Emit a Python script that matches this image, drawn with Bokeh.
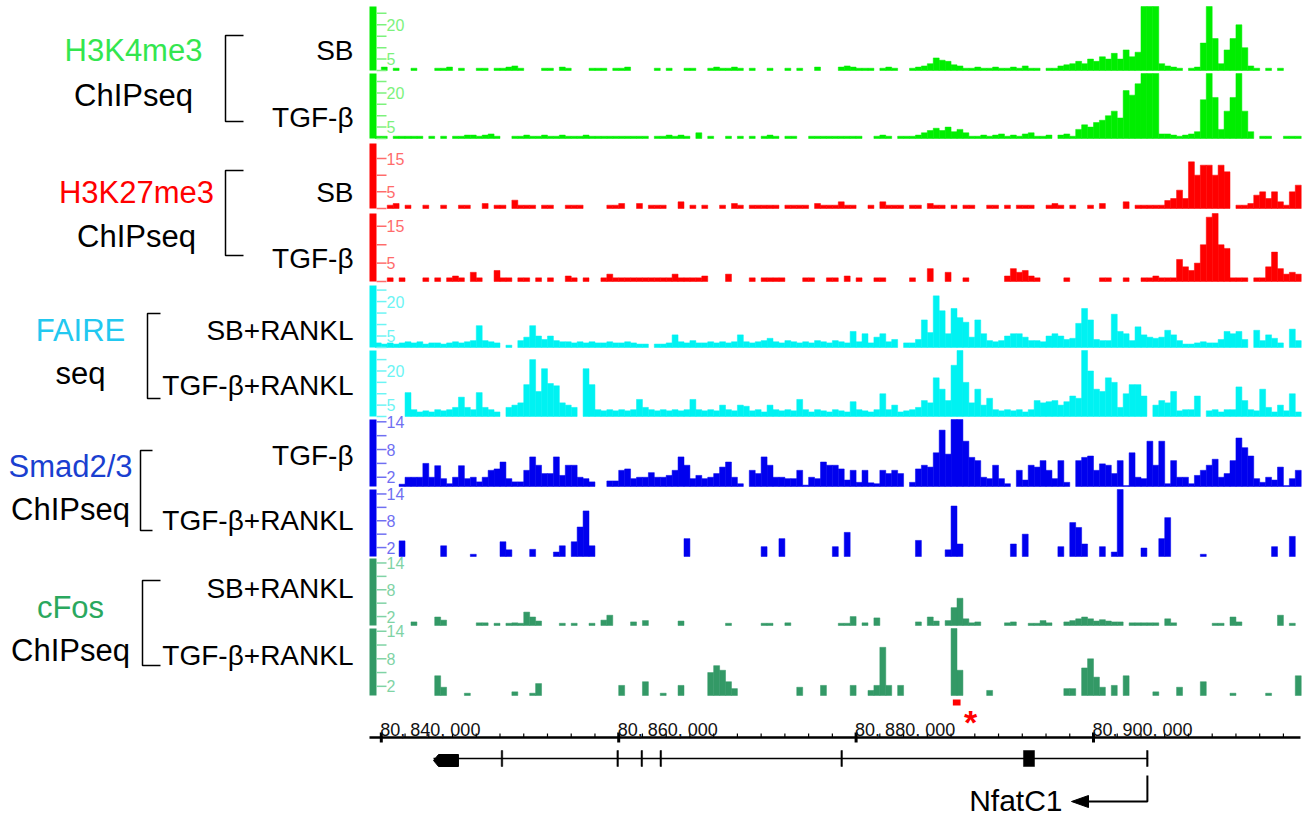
import numpy as np
from bokeh.plotting import figure
from bokeh.models import Range1d
from bokeh.core.properties import value
from bokeh.embed import file_html
from bokeh.resources import INLINE

W, H = 1310, 820
FONT = value("Liberation Sans")

# ---------------------------------------------------------------------------
# Signal tracks: read depth in 500-bp bins starting at chr position 80,839,000
# ---------------------------------------------------------------------------
BIN_START = 80_839_000
BIN_SIZE = 500

h3k4me3_sb = [
    0, 0, 1.5, 0, 1, 0, 0, 1, 0, 0,
    0, 1, 1, 1.5, 0, 1, 0, 0, 1, 1,
    0, 1, 1, 1.5, 2, 1, 0, 0, 0, 1,
    1, 0, 1.5, 1, 0, 0, 0, 1, 1, 1,
    0, 1, 1, 1.5, 0, 0, 0, 0, 1, 0,
    1, 0, 0, 1, 1, 0, 0, 1, 1.5, 1,
    1, 1.5, 1, 0, 1, 0, 0, 1, 0, 0,
    1, 0, 1, 0, 0, 1.5, 0, 0, 0, 1.5,
    2, 1.5, 1, 1, 1, 0, 1, 1.5, 1, 0,
    0, 1, 1.5, 2, 3, 5.5, 4.5, 4, 2.5, 2,
    1, 1, 1.5, 1, 1, 1.5, 1, 1, 1.5, 1,
    2, 1, 1, 0, 1, 1, 2, 2.5, 3, 4,
    3, 5, 4, 6, 5, 7.5, 5, 9, 6, 8,
    28, 28, 28, 3, 2, 1.5, 1, 0, 1, 1.5,
    12, 28, 14, 3, 9, 14, 20, 10, 2, 1,
    0, 1, 0, 1, 0, 0, 0]

h3k4me3_tgfb = [
    0, 1, 1, 0, 1, 1, 1, 1, 1, 0,
    1, 0, 1, 0, 1, 1, 1.5, 1.5, 1, 1.5,
    2, 1, 0, 0, 1, 1, 1.5, 1, 1, 1.5,
    1, 1, 1.5, 1, 1, 1, 1.5, 1, 1, 1,
    1, 1, 1, 1, 1, 1, 1, 0, 1, 1,
    1.5, 1, 1.5, 1, 0, 2.5, 0, 1, 0, 0,
    1, 0, 1, 0, 1, 0, 1, 1.5, 1, 0,
    1, 1, 0, 0, 1, 1, 1, 1, 1, 1,
    1, 1, 1, 0, 0, 1, 1.5, 1, 0, 1,
    1, 1, 1.5, 2.5, 3.5, 4.5, 3.5, 5, 3, 4,
    2.5, 1, 1, 1.5, 1, 1.5, 2, 1, 1.5, 1,
    2, 2.5, 1, 1, 1.5, 0, 1.5, 2, 1, 4,
    6, 5, 7, 8, 10, 12, 9, 21, 19, 24,
    29, 29, 29, 2, 2, 1.5, 1, 1.5, 2, 3,
    17, 29, 18, 4, 12, 18, 29, 12, 3, 0,
    1, 1, 0, 0, 1, 1, 1]

h3k27me3_sb = [
    0, 0, 0, 1, 1.5, 0, 1, 0, 0, 1,
    0, 0, 1, 0, 0, 1, 1, 0, 0, 1.5,
    0, 1, 1, 0, 2.5, 1, 1, 1, 0, 1,
    1, 0, 0, 1, 1, 1, 0, 0, 0, 0,
    1, 1, 1.5, 0, 0, 1.5, 0, 1, 1, 1,
    0, 0, 2, 0, 1, 0, 1, 0, 0, 1,
    0, 1.5, 1, 0, 1, 1, 1, 1, 1, 0,
    1, 1, 1, 1, 0, 1.5, 1, 1, 1, 2,
    1, 1, 0, 0, 1, 0, 2, 1, 1, 1,
    0, 1, 1, 0, 1.5, 1, 1, 0, 1, 0,
    1, 1, 0, 0, 1, 1, 0, 1, 0, 1,
    1, 1, 0, 0, 1, 1.5, 1, 0, 1, 0,
    0, 1, 0, 1.5, 0, 0, 0, 2, 0, 1,
    1, 1, 1, 1, 2.4, 3, 5.5, 3, 14, 10,
    13, 13, 10, 13, 11, 0, 1, 1, 1.5, 4,
    5, 3, 5, 2, 1, 5, 7]

h3k27me3_tgfb = [
    0, 0, 0, 1, 0, 1, 0, 0, 0, 1,
    0, 1, 0, 1, 1.5, 1, 0, 2.5, 1, 0,
    0, 3, 1, 1, 0, 1, 1, 0, 1, 0,
    1, 0, 0, 1.5, 1, 0, 1, 0, 0, 1,
    2, 1, 1, 1, 1, 1, 1, 1, 1, 1,
    1, 2, 1, 1, 1, 1, 1.5, 0, 0, 0,
    2, 0, 0, 0, 1, 0, 1, 1, 1, 1,
    0, 0, 0, 1, 1, 0, 0, 1, 1, 0,
    1.5, 0, 1, 0, 0, 1, 1, 0, 0, 0,
    0, 1, 0, 0, 3.5, 0, 0, 2.5, 0, 0,
    1, 0, 0, 0, 0, 0, 0, 1.5, 3.5, 2.5,
    3, 1.5, 1, 0, 0, 0, 0, 1, 0, 0,
    0, 0, 0, 1, 1, 0, 0, 1, 0, 0,
    1, 1, 1.5, 1, 1, 1, 6, 4, 3, 5,
    10, 17.5, 19, 10, 9, 1, 1, 1, 0, 1,
    1, 4, 8, 3.5, 2, 2.5, 2]

faire_sb_rankl = [
    0, 2, 1.5, 2, 1.5, 2, 2.5, 2, 2.5, 1.5,
    2, 2, 1.5, 2, 2.5, 2, 2.5, 3, 9.5, 3,
    2.5, 2, 0, 1, 0, 3, 4.5, 9.5, 5, 3.5,
    5, 3, 2.5, 2.5, 2, 2.5, 2, 2.5, 2, 2,
    2.5, 2, 2, 2.5, 2, 1.5, 1.5, 0, 1.5, 1.5,
    2, 5.5, 2.5, 2, 3, 2, 2, 2.5, 2, 2.5,
    2, 2.5, 5.5, 2.5, 2, 2.5, 3, 4, 2.5, 2,
    3, 2.5, 2, 2.5, 2, 3, 2.5, 2, 3, 2.5,
    2, 7, 2.5, 6, 2, 4.5, 6, 2.5, 3.5, 0,
    2, 2, 3.5, 12, 6.5, 22.5, 16, 6, 17, 13,
    11, 4.5, 12, 6, 3, 2.5, 3, 5, 6, 6,
    4.5, 3, 3, 2.5, 5, 6, 5, 3.5, 4, 10.5,
    17, 12, 3.5, 3, 3, 14.5, 7, 6, 3, 9,
    5.5, 4.5, 4, 4.5, 7.5, 5.5, 3, 1.5, 1.5, 2,
    2.5, 2, 2, 3.5, 7, 6, 7, 3.5, 0, 7.5,
    3, 5.5, 4, 2, 0, 8, 3]

faire_tgfb_rankl = [
    0, 0, 0, 0, 0, 0, 10.5, 3, 2, 2.5,
    2, 3, 2.5, 3, 4, 8.5, 4, 3, 10.5, 4,
    3, 2, 0, 4, 5, 6, 14, 25, 11, 21,
    14.5, 13.5, 6, 5, 4, 0, 21, 14, 3, 2.5,
    3, 2.5, 3, 2.5, 3, 7.5, 4, 3, 2.5, 3,
    2.5, 3, 2.5, 3, 7.5, 3, 2.5, 3, 2.5, 5,
    3, 2.5, 5, 4.5, 2.5, 3, 2, 5, 3, 2.5,
    3, 2.5, 7.5, 3, 2, 3, 2.5, 2, 3, 2.5,
    2, 6.5, 3, 2.5, 2, 3, 10, 3, 5, 2,
    2.5, 3, 4, 7, 6, 17, 12, 7, 22.5, 29,
    15, 6, 12, 5, 8, 3, 2.5, 3, 2.5, 3,
    2, 3, 7, 6, 6.5, 7, 5, 6.5, 9, 8,
    29, 20, 12, 11, 17, 15, 4, 10, 14, 14,
    9, 0, 5, 7, 6, 11, 2.5, 3, 3, 9,
    0, 2.5, 3, 2, 3, 3, 13, 7, 3, 2.5,
    12, 4, 2, 5, 2.5, 10, 2]

smad23_tgfb = [
    0, 0, 0, 0, 0, 0.5, 2, 2, 2, 5,
    2, 4.5, 1.7, 0.6, 2, 4.5, 1.7, 2, 1, 2,
    3.5, 3.8, 5.3, 1.7, 1, 1, 3.5, 6.4, 4.6, 2.8,
    2.8, 6.4, 2.4, 4.6, 4.6, 2, 1.7, 1, 0, 0,
    1.2, 1.2, 3.5, 3.8, 1.7, 2, 2, 3, 2, 2,
    2.4, 3.5, 6.4, 4.6, 1.7, 2.4, 1.7, 2, 2.8, 4.2,
    5.3, 2, 0.6, 0, 3.5, 2.8, 6.4, 4.6, 2, 2,
    1.7, 1.7, 3.5, 0.3, 2, 1.7, 5.3, 4.6, 4.6, 3.8,
    1.4, 3.5, 0.9, 3.5, 0.8, 0.6, 3.5, 2.8, 3.5, 2.8,
    0, 0.9, 3.8, 4.6, 4.2, 7.3, 12.2, 7, 14.7, 14.7,
    9.8, 6.3, 5.6, 2, 1.7, 4.6, 1.7, 0.6, 0, 3.5,
    1.4, 4.6, 4.2, 5.6, 3.5, 1.7, 5.6, 0.9, 0, 5.6,
    6.3, 6.6, 3.5, 4.9, 4.6, 2.8, 5.6, 0.2, 7.3, 2,
    1.7, 9.8, 4.6, 9.8, 0.6, 5.6, 2, 2, 0.6, 2.4,
    3.5, 4.6, 5.9, 2, 2.8, 5.6, 10.5, 8.4, 6.6, 1.7,
    0.9, 2, 1.4, 4.2, 0.2, 1.7, 3.5]

smad23_tgfb_rankl = [
    0, 0, 0, 0, 0, 3.5, 0, 0, 0, 0,
    0, 0, 2.4, 0, 0, 0, 0, 0.5, 0, 0,
    0, 0, 3.3, 1.5, 0, 0, 0, 1.6, 0, 0,
    0, 1, 2.4, 0, 3.3, 6.6, 10.2, 2.4, 0, 0,
    0, 0, 0, 0, 0, 0, 0, 0, 0, 0,
    0, 0, 0, 4, 0, 0, 0, 0, 0, 0,
    0, 0, 0, 0, 0, 0, 2.2, 0, 0, 4,
    0, 0, 0, 0, 0, 0, 0, 0, 2.2, 0,
    5.4, 0, 0, 0, 0, 0, 0, 0, 0, 0,
    0, 0, 3.6, 0, 0, 0, 0, 1.5, 11.3, 2.8,
    0, 0, 0, 0, 0, 0, 0, 0, 2.8, 0,
    5, 0, 0, 0, 0, 0, 2.2, 0, 7.6, 6.5,
    2.8, 0, 0, 2.2, 0, 1, 15, 0, 0, 0,
    1.9, 0, 0, 4, 8.7, 0, 0, 0, 0, 0,
    0.5, 0, 0, 0, 0, 0, 0, 0, 0, 0,
    0, 0, 2.2, 0, 0, 4.5, 0]

cfos_sb_rankl = [
    0, 0, 0, 0, 0, 0, 0, 0.8, 0, 0,
    0, 1.9, 1.2, 0, 0, 0, 0, 0, 0.6, 0.6,
    0, 0.5, 0, 0.5, 0.6, 0.5, 3, 1.9, 1, 0,
    0, 0, 0.5, 0, 0.5, 0, 0, 0.5, 0, 1.2,
    2.3, 0, 0, 0, 0.8, 0, 1.1, 0, 0, 0,
    0, 0, 1, 0, 0, 0, 0, 0, 0, 0,
    0.5, 0, 0, 0, 0, 0, 0.5, 0.5, 0, 0,
    0.6, 0, 0, 0, 0, 0, 0, 0, 0, 0.5,
    0.5, 2, 0, 0.6, 0, 1.7, 0, 0, 0, 0,
    0, 0, 0.8, 0, 1.9, 1, 0, 1.1, 4, 6.1,
    1.5, 0.6, 0.8, 0, 0, 0, 0, 0.6, 0.8, 0,
    0, 0.5, 0.5, 1.1, 0.6, 0, 0, 0.8, 1.1, 1.5,
    1.9, 1.5, 1, 1.3, 1, 0.8, 0.8, 0, 0.6, 0.6,
    0.6, 0.6, 0.6, 0, 1.5, 0.6, 0, 0, 0, 0,
    0, 0, 0.5, 0.5, 0, 1.9, 0.8, 0, 0, 0,
    0, 0, 0, 2.3, 0, 0.5, 0]

cfos_tgfb_rankl = [
    0, 0, 0, 0, 0, 0, 0, 0, 0, 0,
    0, 4.3, 1.8, 0, 0, 0, 0.5, 0, 0, 0,
    0, 0, 0, 0, 0.8, 0, 0, 0.5, 2.6, 0,
    0, 0, 0, 0, 0, 0, 0, 0, 0, 0,
    0, 0, 2.2, 0, 0, 0, 3, 0, 0, 0.5,
    0, 0, 2.2, 0, 0, 0, 0, 5, 6.5, 5.5,
    3, 1.5, 0, 0, 0, 0, 0, 0, 0, 0,
    0, 0, 1.8, 0, 0, 0, 2.2, 0, 0, 0,
    0, 2.2, 0, 0, 1.1, 2.2, 10.5, 2.2, 0, 2.2,
    0, 0, 0, 0, 0, 0, 0, 0, 14.6, 5.5,
    0, 0, 0, 0, 1.1, 0, 0, 0, 0, 0,
    0, 0, 0, 0, 0, 0, 0, 1.5, 1.5, 0,
    6, 8, 4, 1.8, 0, 2.2, 0, 4.3, 0, 0,
    0, 0, 0.8, 0, 0, 0, 1.8, 0, 0, 0,
    3, 0, 0, 0, 0, 0.5, 0, 0, 0, 0,
    0, 0.5, 0, 0, 0, 0, 4.3]

# per-track scale tick values and which of them carry a label
ticks_h3 = [0, 5, 10, 15, 20, 25]
labels_k4 = ["20", "5"]
labels_k27 = ["15", "5"]
ticks_tf = [2, 5, 8, 11, 14]
labels_tf = ["14", "8", "2"]

# gene model of NfatC1 (minus strand), exon coordinates in bp
exon_starts = [80_844_400, 80_850_100, 80_859_850, 80_861_880, 80_863_480,
               80_878_720, 80_894_100, 80_904_470]
exon_ends = [80_846_500, 80_850_230, 80_859_980, 80_862_010, 80_863_610,
             80_878_850, 80_895_030, 80_904_600]
gene_name = "NfatC1"

# ruler labels
ruler_ticks = [80_840_000, 80_860_000, 80_880_000, 80_900_000]
ruler_labels = ["80, 840, 000", "80, 860, 000", "80, 880, 000", "80, 900, 000"]

# cFos peak highlighted in the TGF-β+RANKL sample
marked_region = (80_888_150, 80_888_800)

# ---------------------------------------------------------------------------
# colours
# ---------------------------------------------------------------------------
GREEN, GREEN_T = "#00ee00", "#7cf27c"
RED, RED_T = "#ff0000", "#ff6b6b"
CYAN, CYAN_T = "#00f2f2", "#6cf4f4"
BLUE, BLUE_T = "#0000ee", "#6f6ff2"
SEA, SEA_T = "#339966", "#7fd3a5"

# ---------------------------------------------------------------------------
# figure: y in screen pixels (top = 0), x in pixels plus a genome range
# ---------------------------------------------------------------------------
PX_PER_KB = 11.87
X_REF = 380.8                 # pixel column of 80,840,000
G0 = 80_840_000 - X_REF / PX_PER_KB * 1000
G1 = 80_840_000 + (W - X_REF) / PX_PER_KB * 1000
DATA_LEFT, DATA_RIGHT = 369, 1300


def gx(px):
    return G0 + px / W * (G1 - G0)


p = figure(width=W, height=H, x_range=Range1d(0, W), y_range=Range1d(H, 0),
           output_backend="svg", toolbar_location=None, min_border=0,
           x_axis_location=None, y_axis_location=None)
p.outline_line_color = None
p.background_fill_color = "white"
p.border_fill_color = "white"
for g in p.grid:
    g.visible = False
p.extra_x_ranges = {"genome": Range1d(G0, G1)}

# (values, colour, tick colour, baseline px, top px, value at top, ticks, labels)
tracks = [
    (h3k4me3_sb, GREEN, GREEN_T, 70, 6, 28, ticks_h3, labels_k4),
    (h3k4me3_tgfb, GREEN, GREEN_T, 138, 73, 28.5, ticks_h3, labels_k4),
    (h3k27me3_sb, RED, RED_T, 208, 143, 19.5, ticks_h3[:5], labels_k27),
    (h3k27me3_tgfb, RED, RED_T, 281, 213, 18.5, ticks_h3[:5], labels_k27),
    (faire_sb_rankl, CYAN, CYAN_T, 347, 285, 27, ticks_h3, labels_k4),
    (faire_tgfb_rankl, CYAN, CYAN_T, 416, 350, 29, ticks_h3, labels_k4),
    (smad23_tgfb, BLUE, BLUE_T, 486, 419, 14.5, ticks_tf, labels_tf),
    (smad23_tgfb_rankl, BLUE, BLUE_T, 556, 489, 15, ticks_tf, labels_tf),
    (cfos_sb_rankl, SEA, SEA_T, 625, 558, 15, ticks_tf, labels_tf),
    (cfos_tgfb_rankl, SEA, SEA_T, 695, 628, 14.6, ticks_tf, labels_tf),
]

for k, (vals, col, tcol, base, top, vmax, tks, tlabels) in enumerate(tracks):
    scale = (base - top) / vmax
    rname = f"track{k}"
    p.extra_y_ranges[rname] = Range1d(-(H - base) / scale, base / scale)

    v = np.asarray(vals, dtype=float)
    idx = np.nonzero(v > 0)[0]
    left = BIN_START + idx * BIN_SIZE
    p.quad(left=left, right=left + BIN_SIZE, bottom=0,
           top=np.minimum(v[idx], vmax),
           fill_color=col, line_color=col, line_width=0.5,
           x_range_name="genome", y_range_name=rname)

    # scale bar with ticks
    p.quad(left=[DATA_LEFT], right=[DATA_LEFT + 7], bottom=[0], top=[vmax],
           fill_color=col, line_color=None, y_range_name=rname)
    tk = [t for t in tks if t <= vmax]
    p.segment(x0=[DATA_LEFT + 7] * len(tk), x1=[DATA_LEFT + 17] * len(tk),
              y0=tk, y1=tk, line_color=tcol, line_width=1.5,
              y_range_name=rname)
    p.text(x=[DATA_LEFT + 17] * len(tlabels), y=[float(t) for t in tlabels],
           text=tlabels, text_font=FONT, text_font_size="16px",
           text_color=tcol, text_align="left", text_baseline="middle",
           y_range_name=rname)

# ---------------------------------------------------------------------------
# left-hand annotation: assay names, brackets and sample names
# ---------------------------------------------------------------------------
assays = [
    ("H3K4me3", "#33e64f", "ChIPseq", 133, 50, 95),
    ("H3K27me3", RED, "ChIPseq", 136, 192, 236),
    ("FAIRE", "#22c8f0", "seq", 80, 330, 373),
    ("Smad2/3", "#1a3fd0", "ChIPseq", 70, 466, 509),
    ("cFos", "#2aa85e", "ChIPseq", 70, 607, 650),
]
for name, col, kind, cx, y1, y2 in assays:
    p.text(x=[cx], y=[y1], text=[name], text_font=FONT, text_font_size="31px",
           text_color=col, text_align="center", text_baseline="middle")
    p.text(x=[cx], y=[y2], text=[kind], text_font=FONT, text_font_size="31px",
           text_color="black", text_align="center", text_baseline="middle")

brackets = [(225, 243, 35, 121), (225, 243, 170, 255), (147, 160, 313, 398),
            (140, 152, 450, 530), (142, 160, 580, 665)]
for x0, x1, y0, y1 in brackets:
    p.line(x=[x1, x0, x0, x1], y=[y0, y0, y1, y1], line_color="black",
           line_width=1.5)

samples = ["SB", "TGF-β", "SB", "TGF-β", "SB+RANKL", "TGF-β+RANKL",
           "TGF-β", "TGF-β+RANKL", "SB+RANKL", "TGF-β+RANKL"]
sample_y = [50, 117, 192, 258, 330, 385, 455, 520, 588, 655]
p.text(x=[353] * len(samples), y=sample_y, text=samples, text_font=FONT,
       text_font_size="28px", text_color="black", text_align="right",
       text_baseline="middle")

# ---------------------------------------------------------------------------
# highlighted region and coordinate ruler
# ---------------------------------------------------------------------------
p.quad(left=[marked_region[0]], right=[marked_region[1]], bottom=[705],
       top=[699], fill_color=RED, line_color=None, x_range_name="genome")
p.text(x=[marked_region[1] + 300], y=[721], text=["*"], text_font=FONT,
       text_font_size="34px", text_font_style="bold", text_color=RED,
       text_align="left", text_baseline="alphabetic", x_range_name="genome")

RULER_Y = 737
p.line(x=[gx(DATA_LEFT), gx(DATA_RIGHT)], y=[RULER_Y, RULER_Y],
       line_color="black", line_width=2.5, x_range_name="genome")
minor = np.arange(80_842_000, gx(DATA_RIGHT), 2000)
p.segment(x0=minor, x1=minor, y0=RULER_Y - 4, y1=RULER_Y, line_color="black",
          line_width=1.2, x_range_name="genome")
p.segment(x0=ruler_ticks, x1=ruler_ticks, y0=RULER_Y - 5, y1=RULER_Y + 5,
          line_color="black", line_width=3, x_range_name="genome")
p.text(x=ruler_ticks, y=[729] * len(ruler_ticks), text=ruler_labels,
       text_font=FONT, text_font_size="18px", text_color="#111111",
       text_align="left", text_baseline="alphabetic", x_offset=-1,
       x_range_name="genome")

# ---------------------------------------------------------------------------
# gene model
# ---------------------------------------------------------------------------
GENE_Y = 758
p.line(x=[exon_starts[0], exon_ends[-1]], y=[GENE_Y, GENE_Y],
       line_color="black", line_width=1.3, x_range_name="genome")
# 3' end drawn as an arrow-shaped block (minus strand)
s0, e0 = exon_starts[0], exon_ends[0]
tip = 420
p.patch(x=[s0, s0 + tip, e0, e0, s0 + tip], y=[760, 754, 754, 766, 766],
        fill_color="black", line_color="black", line_width=1,
        x_range_name="genome")
p.quad(left=exon_starts[1:], right=exon_ends[1:], bottom=[766] * 7,
       top=[750] * 7, fill_color="black", line_color="black",
       line_width=0.5, x_range_name="genome")
# transcription start arrow
tss = exon_ends[-1] - 60
p.line(x=[tss, tss, gx(1087)], y=[775, 801, 801], line_color="black",
       line_width=2, x_range_name="genome")
p.patch(x=[gx(1071), gx(1088), gx(1088)], y=[801, 795, 807],
        fill_color="black", line_color="black", x_range_name="genome")
p.text(x=[gx(1062)], y=[800], text=[gene_name], text_font=FONT,
       text_font_size="30px", text_color="black", text_align="right",
       text_baseline="middle", x_range_name="genome")

open("out.html", "w").write(file_html(p, INLINE))
